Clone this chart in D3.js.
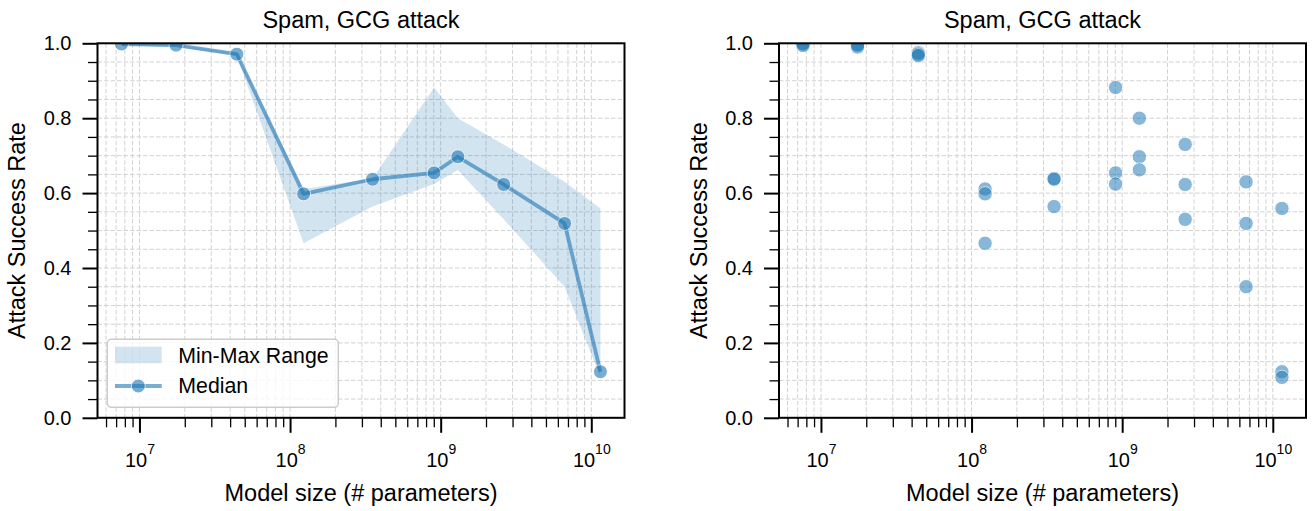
<!DOCTYPE html>
<html><head><meta charset="utf-8">
<script src="https://cdn.jsdelivr.net/npm/d3@7"></script>
<style>
body{margin:0;background:#fff}
svg{display:block}
text{font-family:"Liberation Sans",Arial,Helvetica,sans-serif;fill:#000}
</style>
</head><body>
<svg id="chart" width="1312" height="511"></svg>
<script>
// ---- data ----
const modelSizes = [7.6e6, 1.75e7, 4.43e7, 1.23e8, 3.53e8, 9.04e8, 1.30e9, 2.62e9, 6.65e9, 1.15e10];
const asrSeedA = [1.000, 0.997, 0.975, 0.611, 0.639, 0.882, 0.800, 0.730, 0.630, 0.559];
const asrSeedB = [0.998, 0.995, 0.971, 0.598, 0.637, 0.654, 0.697, 0.623, 0.519, 0.123];
const asrSeedC = [0.994, 0.990, 0.967, 0.466, 0.564, 0.624, 0.662, 0.530, 0.350, 0.108];
const xMajorTicks = [1e7, 1e8, 1e9, 1e10];
const yMajorTicks = [0.0, 0.2, 0.4, 0.6, 0.8, 1.0];
const panelTitles = ["Spam, GCG attack", "Spam, GCG attack"];
const xLabelText = "Model size (# parameters)";
const yLabelText = "Attack Success Rate";
const legendLabels = ["Min-Max Range", "Median"];

// ---- layout ----
const svg = d3.select("#chart");
const blue = "#1f77b4";
const plotTop = 43.3, plotBottom = 417.8;
const xDomain = [Math.pow(10, 6.7215), Math.pow(10, 10.2205)];
const panels = [
  {left: 97.5, right: 624.5, kind: "summary"},
  {left: 779, right: 1306, kind: "scatter"}
];
const seeds = [asrSeedA, asrSeedB, asrSeedC];
const stats = modelSizes.map((m, i) => {
  const v = seeds.map(s => s[i]);
  return {x: m, min: d3.min(v), max: d3.max(v), med: d3.median(v)};
});
const fontFam = '"Liberation Sans",Arial,Helvetica,sans-serif';
const labelSize = 23.5, tickSize = 20, legendSize = 21.3;

panels.forEach((p, pi) => {
  const x = d3.scaleLog().domain(xDomain).range([p.left, p.right]);
  const y = d3.scaleLinear().domain([0, 1]).range([plotBottom, plotTop]);
  const g = svg.append("g");

  const xMinor = [];
  for (let e = 6; e <= 10; e++) for (let k = 2; k <= 9; k++) {
    const v = k * Math.pow(10, e);
    if (v >= xDomain[0] && v <= xDomain[1]) xMinor.push(v);
  }
  const yMinor = d3.range(0, 21).map(i => i * 0.05).filter(v => !yMajorTicks.some(t => Math.abs(t - v) < 1e-9));

  const clipId = "clip" + pi;
  svg.append("clipPath").attr("id", clipId).append("rect")
    .attr("x", p.left).attr("y", plotTop).attr("width", p.right - p.left).attr("height", plotBottom - plotTop);

  // grid
  const grid = g.append("g").attr("stroke", "#d2d2d2").attr("stroke-width", 1).attr("stroke-dasharray", "4.5,2");
  xMajorTicks.concat(xMinor).forEach(v => grid.append("line")
    .attr("x1", x(v)).attr("x2", x(v)).attr("y1", plotTop).attr("y2", plotBottom));
  yMajorTicks.concat(yMinor).forEach(v => grid.append("line")
    .attr("x1", p.left).attr("x2", p.right).attr("y1", y(v)).attr("y2", y(v)));

  const data = g.append("g").attr("clip-path", `url(#${clipId})`);
  if (p.kind === "summary") {
    const area = d3.area().x(d => x(d.x)).y0(d => y(d.min)).y1(d => y(d.max));
    data.append("path").datum(stats).attr("d", area).attr("fill", blue).attr("fill-opacity", 0.2);
    const line = d3.line().x(d => x(d.x)).y(d => y(d.med));
    data.append("path").datum(stats).attr("d", line).attr("fill", "none")
      .attr("stroke", blue).attr("stroke-opacity", 0.6).attr("stroke-width", 3.8).attr("stroke-linejoin", "round");
    data.selectAll("circle.med").data(stats).join("circle").attr("class", "med")
      .attr("cx", d => x(d.x)).attr("cy", d => y(d.med)).attr("r", 7)
      .attr("fill", blue).attr("stroke", "#fff").attr("stroke-width", 1).attr("opacity", 0.6);
  } else {
    const pts = [];
    seeds.forEach(s => s.forEach((v, i) => pts.push({x: modelSizes[i], y: v})));
    data.selectAll("circle.pt").data(pts).join("circle").attr("class", "pt")
      .attr("cx", d => x(d.x)).attr("cy", d => y(d.y)).attr("r", 7.2)
      .attr("fill", blue).attr("stroke", "#fff").attr("stroke-width", 1).attr("opacity", 0.52);
  }

  // minor ticks
  const xMin = g.append("g").attr("transform", `translate(0,${plotBottom})`)
    .call(d3.axisBottom(x).tickValues(xMinor).tickSize(9.5).tickFormat(() => ""));
  xMin.select(".domain").remove();
  xMin.selectAll("line").attr("stroke-width", 1.3);
  const yMin = g.append("g").attr("transform", `translate(${p.left},0)`)
    .call(d3.axisLeft(y).tickValues(yMinor).tickSize(9.5).tickFormat(() => ""));
  yMin.select(".domain").remove();
  yMin.selectAll("line").attr("stroke-width", 1.3);

  // major ticks
  const xAx = g.append("g").attr("transform", `translate(0,${plotBottom})`)
    .call(d3.axisBottom(x).tickValues(xMajorTicks).tickSize(15));
  xAx.select(".domain").remove();
  xAx.selectAll("line").attr("stroke-width", 2);
  xAx.attr("font-size", tickSize).attr("font-family", fontFam);
  xAx.selectAll(".tick text").each(function(d) {
    const t = d3.select(this);
    t.text(null).attr("y", 49).attr("dy", 0);
    t.append("tspan").text("10");
    t.append("tspan").attr("dy", -12.5).attr("font-size", 14).text(Math.round(Math.log10(d)));
  });
  const yAx = g.append("g").attr("transform", `translate(${p.left},0)`)
    .call(d3.axisLeft(y).tickValues(yMajorTicks).tickSize(15).tickPadding(11).tickFormat(d3.format(".1f")));
  yAx.select(".domain").remove();
  yAx.selectAll("line").attr("stroke-width", 2);
  yAx.attr("font-size", tickSize).attr("font-family", fontFam);

  // spines
  g.append("rect").attr("x", p.left).attr("y", plotTop).attr("width", p.right - p.left).attr("height", plotBottom - plotTop)
    .attr("fill", "none").attr("stroke", "#000").attr("stroke-width", 2);

  // title & labels
  const cx = (p.left + p.right) / 2;
  g.append("text").attr("x", cx).attr("y", 28).attr("text-anchor", "middle").attr("font-size", labelSize).text(panelTitles[pi]);
  g.append("text").attr("x", cx).attr("y", 501).attr("text-anchor", "middle").attr("font-size", labelSize).text(xLabelText);
  g.append("text").attr("transform", `translate(${p.left - 72.5},${(plotTop + plotBottom) / 2}) rotate(-90)`)
    .attr("text-anchor", "middle").attr("font-size", labelSize).text(yLabelText);

  // legend
  if (p.kind === "summary") {
    const lg = g.append("g");
    lg.append("rect").attr("x", 107.3).attr("y", 339.3).attr("width", 231).attr("height", 68).attr("rx", 4)
      .attr("fill", "#fff").attr("fill-opacity", 0.8).attr("stroke", "#cccccc").attr("stroke-width", 1.5);
    lg.append("rect").attr("x", 115).attr("y", 346.7).attr("width", 46.7).attr("height", 16.6)
      .attr("fill", blue).attr("fill-opacity", 0.2);
    lg.append("line").attr("x1", 115).attr("x2", 161.7).attr("y1", 386).attr("y2", 386)
      .attr("stroke", blue).attr("stroke-opacity", 0.6).attr("stroke-width", 3.8);
    lg.append("circle").attr("cx", 138.3).attr("cy", 386).attr("r", 7)
      .attr("fill", blue).attr("stroke", "#fff").attr("stroke-width", 1).attr("opacity", 0.6);
    lg.append("text").attr("x", 178.3).attr("y", 362.7).attr("font-size", legendSize).text(legendLabels[0]);
    lg.append("text").attr("x", 178.3).attr("y", 392.7).attr("font-size", legendSize).text(legendLabels[1]);
  }
});
</script>
</body></html>
